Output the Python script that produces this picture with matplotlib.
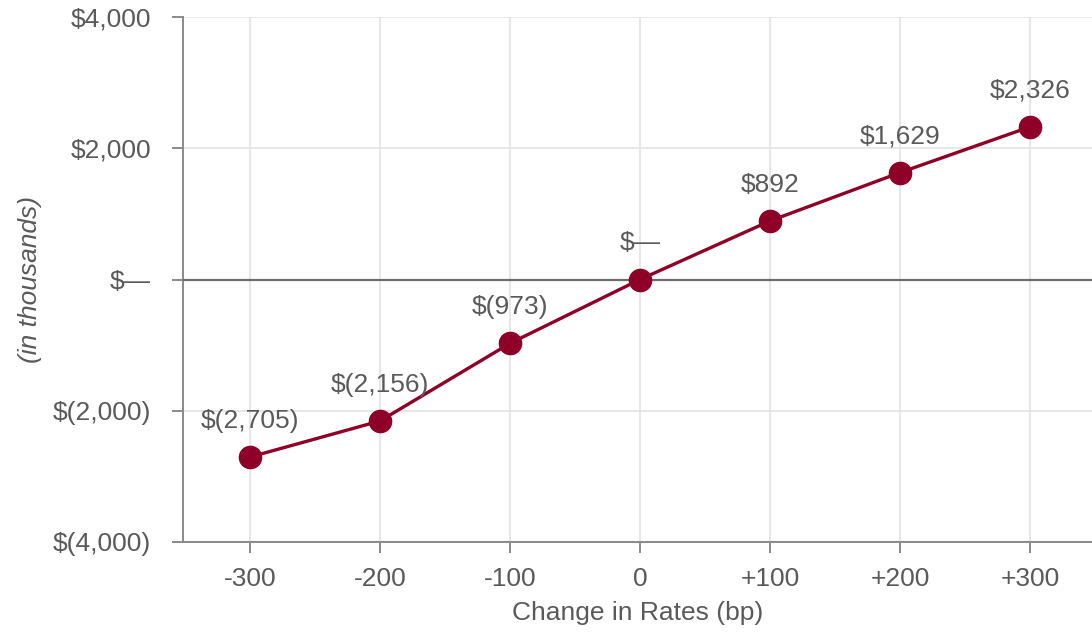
#!/usr/bin/env python3
"""Rate sensitivity line chart"""

import matplotlib
matplotlib.use('Agg')
import matplotlib.pyplot as plt

plt.rcParams['font.family'] = ['Liberation Sans', 'DejaVu Sans']

# Data
rate_shifts = [-300, -200, -100, 0, 100, 200, 300]
x_labels = ['-300', '-200', '-100', '0', '+100', '+200', '+300']
values = [-2705, -2156, -973, 0, 892, 1629, 2326]
point_labels = ['$(2,705)', '$(2,156)', '$(973)', '$\u2014', '$892', '$1,629', '$2,326']
y_ticks = [-4000, -2000, 0, 2000, 4000]
y_labels = ['$(4,000)', '$(2,000)', '$\u2014', '$2,000', '$4,000']

# Colors
line_color = '#8f0028'
text_color = '#5a5a5a'
grid_color = '#e3e3e3'
axis_color = '#8a8a8a'

fig = plt.figure(figsize=(10.92, 6.32), dpi=100)
ax = fig.add_axes([183 / 1092, 90 / 632, 1 - 183 / 1092, (542 - 17) / 632])

ax.set_xlim(-351.5, 347.7)
ax.set_ylim(-4000, 4000)

ax.plot(rate_shifts, values, color=line_color, linewidth=2.4, marker='o',
        markersize=16, zorder=4)

for x, v, lab in zip(rate_shifts, values, point_labels):
    ax.annotate(lab, (x, v), xytext=(0, 26), textcoords='offset points',
                ha='center', va='center', fontsize=19, color=text_color, zorder=5)

# Zero line
ax.axhline(0, color='#6b6b6b', linewidth=1.6, zorder=3)

ax.set_xticks(rate_shifts)
ax.set_xticklabels(x_labels)
ax.set_yticks(y_ticks)
ax.set_yticklabels(y_labels)
ax.grid(True, color=grid_color, linewidth=1.2, zorder=0)
ax.set_axisbelow(True)

for side in ['top', 'right']:
    ax.spines[side].set_visible(False)
ax.spines['left'].set_color(axis_color)
ax.spines['left'].set_linewidth(1.4)
ax.spines['bottom'].set_color(axis_color)
ax.spines['bottom'].set_linewidth(1.4)

ax.tick_params(axis='both', colors=axis_color, length=8, width=1.4,
               labelsize=19, labelcolor=text_color)
ax.tick_params(axis='x', pad=10)
ax.tick_params(axis='y', pad=15)

ax.set_xlabel('Change in Rates (bp)', fontsize=19, color=text_color)
ax.set_ylabel('(in thousands)', fontsize=19, color=text_color, style='italic')
ax.xaxis.set_label_coords(0.5, -0.113)
ax.yaxis.set_label_coords(-0.155, 0.5)

fig.savefig('out.png', dpi=100, facecolor='white')
